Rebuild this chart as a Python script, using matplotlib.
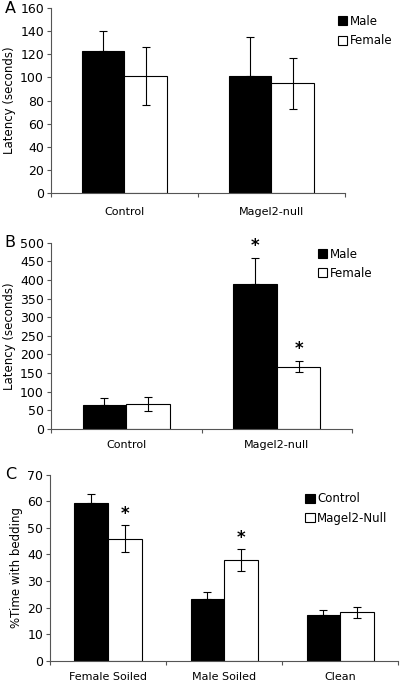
import numpy as np
import matplotlib.pyplot as plt
from matplotlib.ticker import FixedLocator

# panel A
a_groups = ['Control', 'Magel2-null']
a_male = [123, 101]
a_male_err = [17, 34]
a_female = [101, 95]
a_female_err = [25, 22]

# panel B
b_groups = ['Control', 'Magel2-null']
b_male = [64, 388]
b_male_err = [20, 72]
b_female = [66, 167]
b_female_err = [19, 15]

# panel C
c_groups = ['Female Soiled', 'Male Soiled', 'Clean']
c_control = [59.3, 23.2, 17.1]
c_control_err = [3.4, 2.8, 1.9]
c_null = [45.9, 37.9, 18.2]
c_null_err = [5.0, 4.0, 2.2]

plt.rcParams['font.family'] = ['DejaVu Sans']
plt.rcParams['font.size'] = 8.5

fig = plt.figure(figsize=(4.01, 6.84), dpi=100)


def panel(rect, groups, s1, e1, s2, e2, ymax, ystep, ylabel, labels, letter,
          leg_xy, stars=None, bw=0.29, xpad=8):
    ax = fig.add_axes(rect)
    x = np.arange(len(groups))
    ekw = dict(elinewidth=0.8, capthick=0.8, capsize=3, ecolor='black')
    ax.bar(x - bw / 2, s1, bw, color='black', edgecolor='black', lw=0.8,
           label=labels[0])
    ax.errorbar(x - bw / 2, s1, yerr=[np.zeros(len(e1)), e1], fmt='none', **ekw)
    ax.bar(x + bw / 2, s2, bw, color='white', edgecolor='black', lw=0.8,
           label=labels[1])
    ax.errorbar(x + bw / 2, s2, yerr=e2, fmt='none', **ekw)
    if stars:
        for i, which in stars:
            if which == 0:
                ax.text(x[i] - bw / 2, s1[i] + e1[i] + ymax * 0.015, '*',
                        ha='center', va='bottom', fontsize=12, fontweight='bold')
            else:
                ax.text(x[i] + bw / 2, s2[i] + e2[i] + ymax * 0.015, '*',
                        ha='center', va='bottom', fontsize=12, fontweight='bold')
    ax.set_xlim(-0.5, len(groups) - 0.5)
    ax.set_ylim(0, ymax)
    ax.set_yticks(np.arange(0, ymax + 1, ystep))
    ax.set_xticks(x)
    ax.set_xticklabels(groups, fontsize=8)
    ax.xaxis.set_minor_locator(FixedLocator(np.arange(0, len(groups) + 1) - 0.5))
    ax.tick_params(axis='x', which='major', length=0, pad=xpad)
    ax.tick_params(axis='x', which='minor', length=3, direction='out', width=0.8,
                   color='#555555')
    ax.tick_params(axis='y', length=3, width=0.8, color='#555555', pad=2,
                   labelsize=9)
    for s in ['top', 'right']:
        ax.spines[s].set_visible(False)
    for s in ['left', 'bottom']:
        ax.spines[s].set_color('#555555')
        ax.spines[s].set_linewidth(0.8)
    ax.set_ylabel(ylabel, labelpad=3, fontsize=8.5)
    fig.text(0.012, rect[1] + rect[3], letter, fontsize=11.5, va='center')
    ax.legend(loc='upper left', bbox_to_anchor=leg_xy, frameon=False,
              handlelength=0.8, handleheight=0.8, handletextpad=0.2,
              labelspacing=0.55, borderaxespad=0, fontsize=8.5)
    return ax


panel([0.127, 0.718, 0.733, 0.270], a_groups, a_male, a_male_err,
      a_female, a_female_err, 160, 20, 'Latency (seconds)',
      ['Male', 'Female'], 'A', (0.96, 0.99), xpad=10)

panel([0.127, 0.373, 0.751, 0.272], b_groups, b_male, b_male_err,
      b_female, b_female_err, 500, 50, 'Latency (seconds)',
      ['Male', 'Female'], 'B', (0.87, 1.0), stars=[(1, 0), (1, 1)])

panel([0.125, 0.034, 0.868, 0.272], c_groups, c_control, c_control_err,
      c_null, c_null_err, 70, 10, '%Time with bedding',
      ['Control', 'Magel2-Null'], 'C', (0.72, 0.93),
      stars=[(0, 1), (1, 1)], xpad=8)

fig.savefig('out.png', dpi=100)
